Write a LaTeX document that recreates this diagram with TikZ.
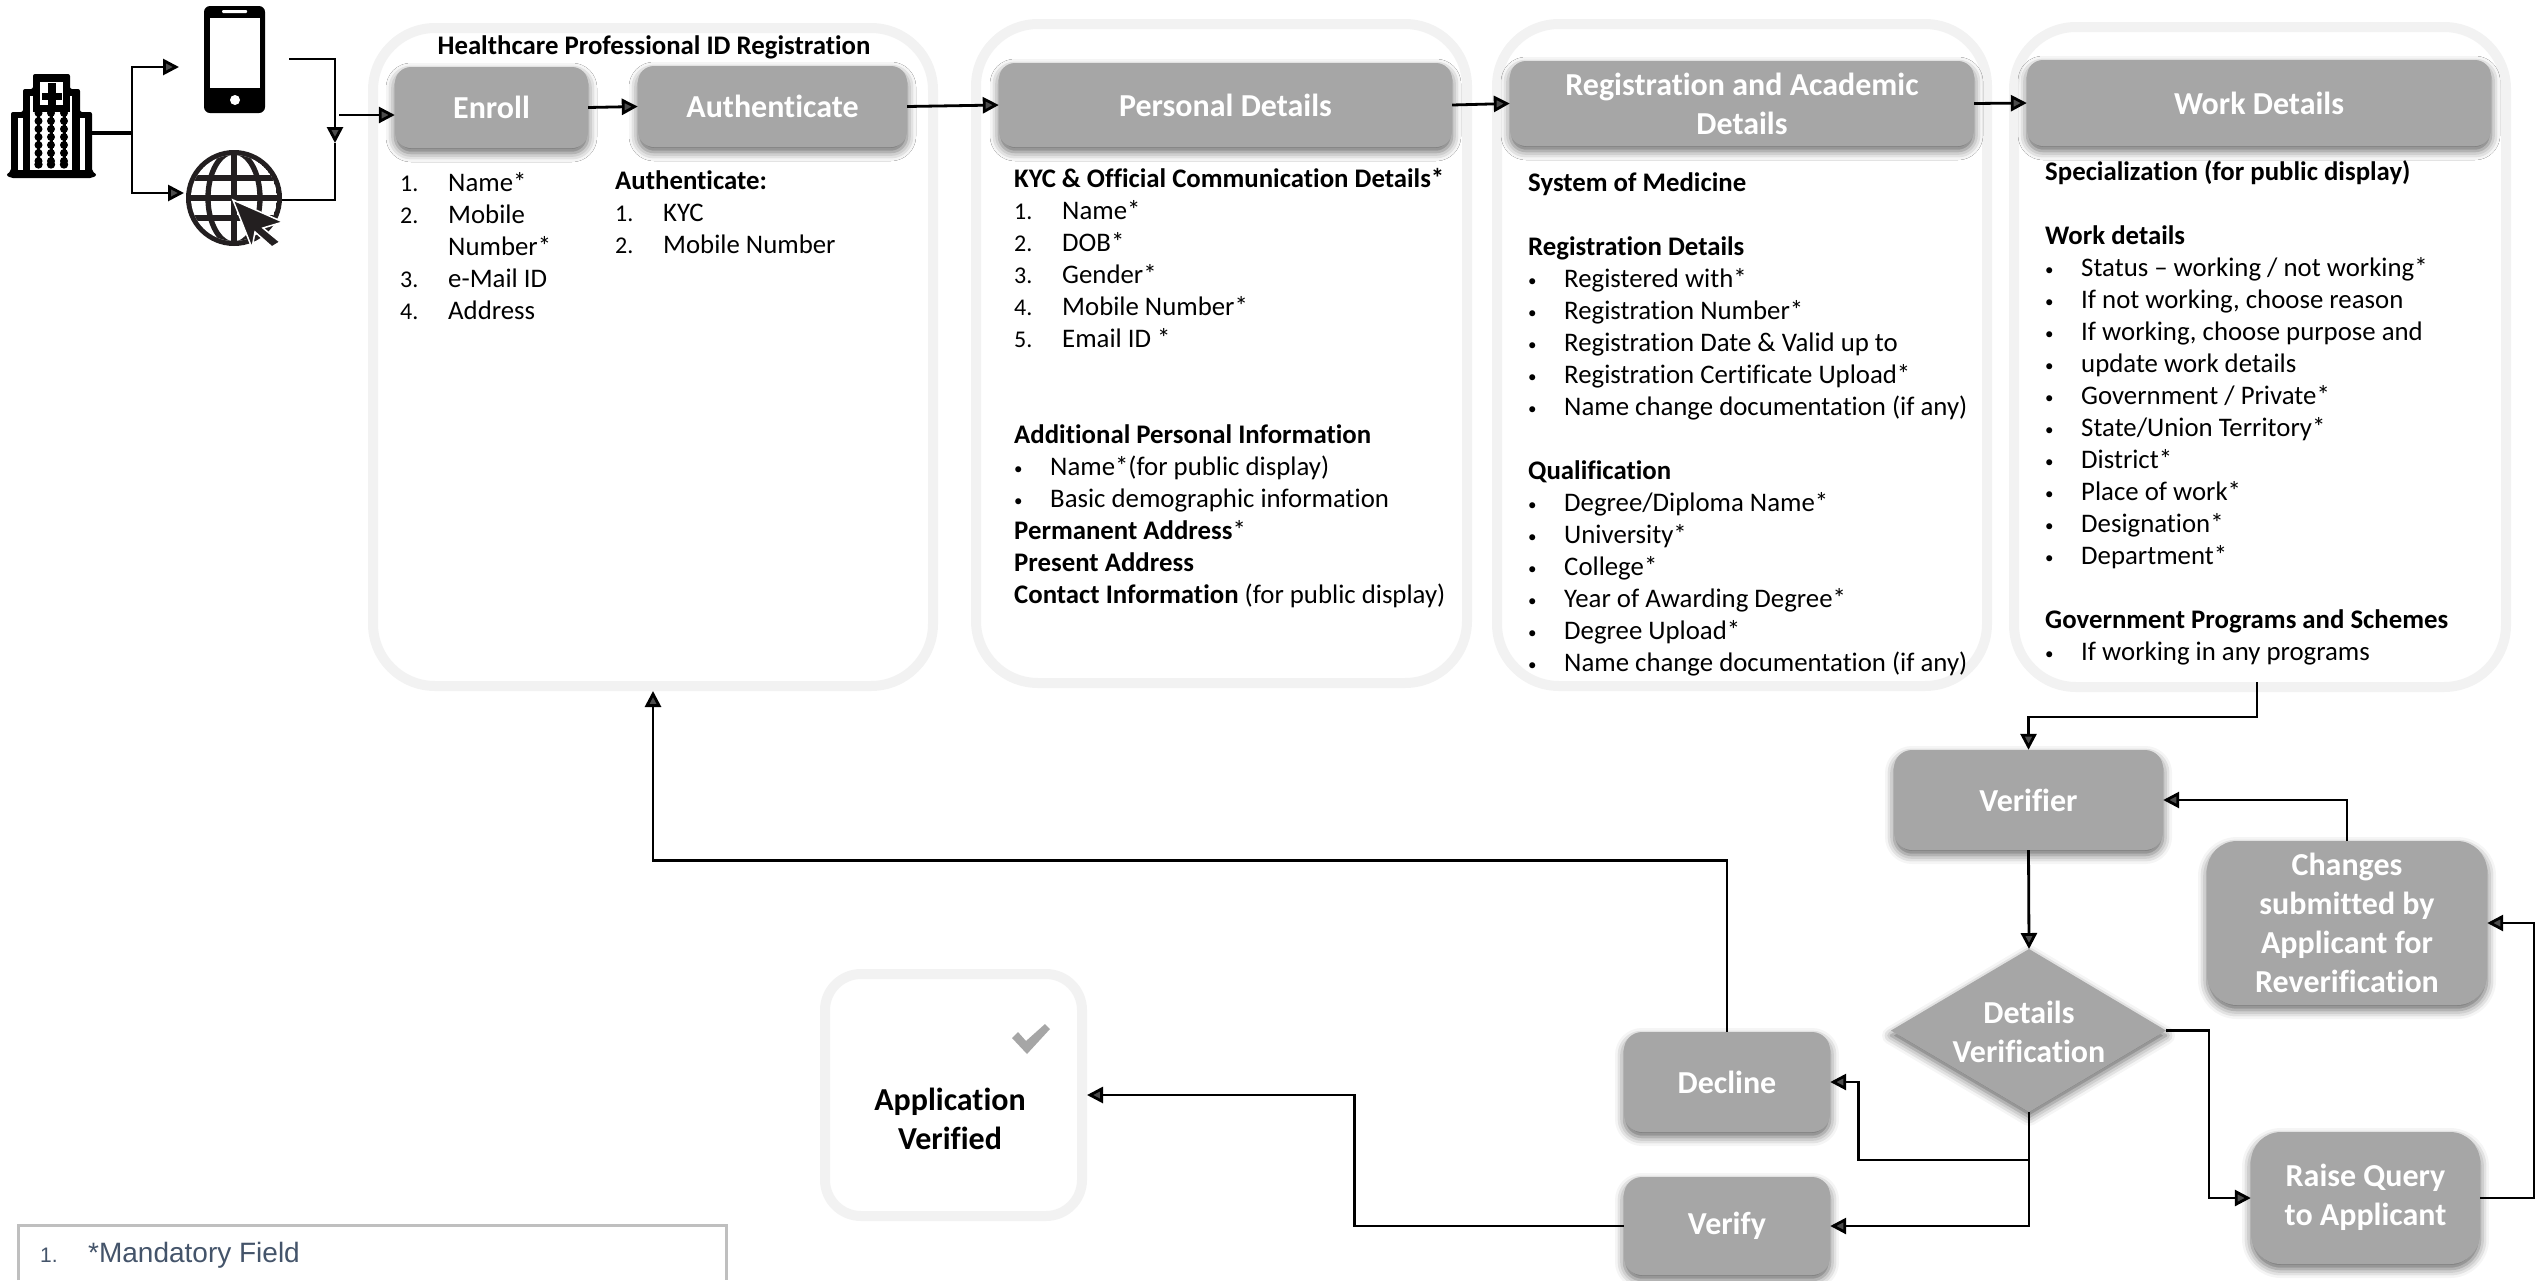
\documentclass[tikz,border=0pt]{standalone}
\usepackage{fontspec}
\setmainfont{Carlito}[Ligatures=NoCommon]
\newfontfamily\legendfont{Liberation Sans}
\usetikzlibrary{arrows.meta,shapes.geometric,shadows.blur,calc}
\definecolor{boxgray}{HTML}{A6A6A6}
\definecolor{ringgray}{HTML}{F2F2F2}
\definecolor{slate}{HTML}{44546A}
\definecolor{globeink}{HTML}{231F20}
\newcommand{\fl}{\rule{0pt}{22pt}}
\newcommand{\bl}[1]{\makebox[36pt][l]{\raisebox{1pt}{\fontsize{17}{32}\selectfont •}}#1}
\newcommand{\nm}[2]{\makebox[48pt][l]{{\fontsize{24}{32}\selectfont #1}}#2}
\tikzset{
  ring/.style={draw=ringgray,line width=10pt,rounded corners=#1,fill=white,inner sep=0pt},
  softshadow/.style={blur shadow={shadow xshift=0pt,shadow yshift=-5pt,shadow blur radius=9pt,shadow opacity=60}},
  graybox/.style={fill=boxgray,rounded corners=#1,inner sep=0pt,align=center,text=white,
     font=\fontsize{32}{38.8}\selectfont\bfseries,softshadow},
  graybox/.default=16pt,
  txt/.style={anchor=north west,inner sep=0pt,align=left,font=\fontsize{26.8}{32}\selectfont},
  flow/.style={line width=2.8pt,-{Triangle[length=16pt,width=16pt]},line join=miter},
  plain/.style={line width=2.8pt},
}
\begin{document}
\begin{tikzpicture}[x=1pt,y=-1pt]
\useasboundingbox (0,0) rectangle (2535,1280);
% container rings
\node[ring=62pt,minimum width=560pt,minimum height=658pt] (box1) at (653,357) {};
\node[ring=62pt,minimum width=491pt,minimum height=659pt] (box2) at (1221.5,353.5) {};
\node[ring=62pt,minimum width=490pt,minimum height=662pt] (box3) at (1742,355) {};
\node[ring=62pt,minimum width=492pt,minimum height=660pt] (box4) at (2260,357) {};
\node[ring=36pt,minimum width=257pt,minimum height=242pt] (appbox) at (953.5,1095) {};
% gray process boxes
\node[graybox,minimum width=193pt,minimum height=81pt] (enroll) at (491.5,107.5) {\raisebox{-1pt}{Enroll}};
\node[graybox,minimum width=269pt,minimum height=81pt] (auth) at (772.5,106.5) {\raisebox{-1pt}{Authenticate}};
\node[graybox,minimum width=453pt,minimum height=84pt] (personal) at (1225.5,105) {Personal Details};
\node[graybox,minimum width=464pt,minimum height=85pt] (reg) at (1742,103.5) {Registration and Academic\\Details};
\node[graybox,minimum width=464pt,minimum height=86pt] (work) at (2259,103) {\raisebox{-1.5pt}{Work Details}};
\node[graybox=18pt,minimum width=269pt,minimum height=100pt] (verifier) at (2028.5,800) {\raisebox{-1.5pt}{Verifier}};
\node[graybox=30pt,minimum width=280pt,minimum height=164pt] (changes) at (2347,923) {Changes\\submitted by\\Applicant for\\Reverification};
\node[graybox=18pt,minimum width=206pt,minimum height=100pt] (decline) at (1727,1082) {\raisebox{-1.5pt}{Decline}};
\node[graybox=18pt,minimum width=206pt,minimum height=98pt] (verify) at (1727,1226) {\raisebox{-1.5pt}{Verify}};
\node[graybox=30pt,minimum width=229pt,minimum height=132pt] (raise) at (2365.5,1198) {\raisebox{-1.5pt}{\begin{tabular}{@{}c@{}}Raise Query\\to Applicant\end{tabular}}};
\path[fill=boxgray,softshadow] (2029,949) coordinate (dtop) -- (2166,1030.5) coordinate (dright) -- (2029,1112) coordinate (dbottom) -- (1891,1030.5) coordinate (dleft) -- cycle;
\node[inner sep=0pt,align=center,text=white,font=\fontsize{32}{38.8}\selectfont\bfseries] (dlabel) at (2029,1032) {Details\\Verification};
% texts
\node[inner sep=0pt,anchor=base,font=\fontsize{26.8}{32}\selectfont\bfseries] (title) at (654,54) {Healthcare Professional ID Registration};
\node[txt] (list1) at (400,169) {\fl\nm{1.}{Name*}\\\nm{2.}{Mobile}\\\nm{}{Number*}\\\nm{3.}{e-Mail ID}\\\nm{4.}{Address}};
\node[txt] (list2) at (615,167) {\fl\textbf{Authenticate:}\\\nm{1.}{KYC}\\\nm{2.}{Mobile Number}};
\node[txt] (list3) at (1014,165) {\fl\textbf{KYC \& Official Communication Details*}\\\nm{1.}{Name*}\\\nm{2.}{DOB*}\\\nm{3.}{Gender*}\\\nm{4.}{Mobile Number*}\\\nm{5.}{Email ID *}\\\mbox{}\\\mbox{}\\\textbf{Additional Personal Information}\\\bl{Name*(for public display)}\\\bl{Basic demographic information}\\\textbf{Permanent Address}*\\\textbf{Present Address}\\\textbf{Contact Information} (for public display)};
\node[txt] (list4) at (1528,169) {\fl\textbf{System of Medicine}\\\mbox{}\\\textbf{Registration Details}\\\bl{Registered with*}\\\bl{Registration Number*}\\\bl{Registration Date \& Valid up to}\\\bl{Registration Certificate Upload*}\\\bl{Name change documentation (if any)}\\\mbox{}\\\textbf{Qualification}\\\bl{Degree/Diploma Name*}\\\bl{University*}\\\bl{College*}\\\bl{Year of Awarding Degree*}\\\bl{Degree Upload*}\\\bl{Name change documentation (if any)}};
\node[txt] (list5) at (2045,158) {\fl\textbf{Specialization (for public display)}\\\mbox{}\\\textbf{Work details}\\\bl{Status – working / not working*}\\\bl{If not working, choose reason}\\\bl{If working, choose purpose and}\\\bl{update work details}\\\bl{Government / Private*}\\\bl{State/Union Territory*}\\\bl{District*}\\\bl{Place of work*}\\\bl{Designation*}\\\bl{Department*}\\\mbox{}\\\textbf{Government Programs and Schemes}\\\bl{If working in any programs}};
\node[inner sep=0pt,align=center,font=\fontsize{32}{38.8}\selectfont\bfseries] (applabel) at (950,1119) {Application\\Verified};
% check mark
\path[fill=boxgray] (1012,1038) -- (1018,1032) -- (1026,1041) -- (1045,1024) -- (1050,1029) -- (1027,1054) -- cycle;
% legend
\draw[draw=black!25,line width=3pt] (18,1280) -- (18,1225) -- (726,1225) -- (726,1280);
\node[inner sep=0pt,anchor=base west,text=slate,font=\legendfont\fontsize{21}{24}\selectfont] (legn) at (40,1262) {1.};
\node[inner sep=0pt,anchor=base west,text=slate,font=\legendfont\fontsize{28}{30}\selectfont] (legt) at (88,1262) {*Mandatory Field};
% building icon
\fill[black,rounded corners=2pt] (6,175) -- (11,171) -- (11,112) -- (23,112) -- (23,89) -- (33,89) -- (33,74) -- (70,74) -- (70,89) -- (80,89) -- (80,112) -- (92,112) -- (92,171) -- (97,175) -- (92,178) -- (11,178) -- cycle;
\fill[white] (18,118) rectangle (23,170);
\fill[white] (80,118) rectangle (85,170);
\fill[white] (30,96) rectangle (72,170);
\fill[white] (40,82) rectangle (63,105);
\fill[black] (33,105) rectangle (70,112);
\fill[black] (33,96) rectangle (40,105);
\fill[black] (63,96) rectangle (70,105);
\fill[black] (48,83) rectangle (56,105);
\fill[black] (42,93) rectangle (62,100);
\foreach \cx in {38.5,51,64}{
  \foreach \cy in {113,121,...,161}{ \fill[black] (\cx,\cy) circle[radius=4pt]; }
  \fill[black] (\cx,164.5) circle[radius=4.2pt];
  \fill[black] (\cx-1.5,108) rectangle (\cx+1.5,166);
}
% phone icon
\fill[black,rounded corners=6pt] (204,6) rectangle (265,113);
\fill[white] (210,18) rectangle (260,88);
\fill[white,rounded corners=1pt] (222,10) rectangle (247,13);
\fill[white] (235,100) circle[radius=5pt];
% globe icon
\begin{scope}
\fill[globeink] (234,198) circle[radius=48pt];
\clip (234,198) circle[radius=43pt];
\fill[white] (234,198) circle[radius=43pt];
\draw[globeink,line width=5.3pt] (234,150) -- (234,247);
\draw[globeink,line width=5.3pt] (234,198) ellipse[x radius=26pt,y radius=46pt];
\draw[globeink,line width=5.3pt] (185,198) -- (283,198);
\draw[globeink,line width=5.3pt] (185,178) -- (283,178);
\draw[globeink,line width=5.3pt] (185,218) -- (283,218);
\end{scope}
\path[fill=globeink,draw=white,line width=1.5pt] (233,200) -- (283,222) -- (263,228) -- (280,242) -- (272,247) -- (255,232) -- (252,248) -- cycle;
% named free ends
\coordinate (bldg) at (91,133);
\coordinate (fork) at (132,133);
\coordinate (phoneIn) at (179,67);
\coordinate (globeIn) at (184,193);
\coordinate (phoneOut) at (289,59);
\coordinate (globeOut) at (282,200);
\coordinate (joinpt) at (335,143);
\coordinate (mergeOut) at (339,115);
\coordinate (box4out) at (2257,682);
% connectors
\draw[plain,line width=3.6pt] (bldg) -- (fork);
\draw[flow] (fork) |- (phoneIn);
\draw[flow] (fork) |- (globeIn);
\draw[flow] (phoneOut) -| (joinpt);
\draw[plain] (globeOut) -| (joinpt);
\draw[flow] (mergeOut) -- (mergeOut -| enroll.west);
\draw[flow] (enroll.east) -- (auth.west);
\draw[flow] (auth.east) -- (personal.west);
\draw[flow] (personal.east) -- (reg.west);
\draw[flow] (reg.east) -- (work.west);
\draw[flow] (box4out) -- ++(0,35) -| (verifier.north);
\draw[flow] (verifier.south) -- (dtop);
\draw[flow] (changes.north) |- (verifier.east);
\draw[flow] (raise.east) -- ++(54,0) |- (changes.east);
\draw[flow] (dright) -- ++(43,0) |- (raise.west);
\draw[flow] (dbottom) |- (verify.east);
\draw[flow] (dbottom) -- ++(0,48) -| ($(decline.east)+(28,0)$) -- (decline.east);
\draw[flow] (decline.north) -- ++(0,-171) -| (box1.south);
\draw[flow] (verify.west) -- ++(-269,0) |- (appbox.east |- 0,1095);
\end{tikzpicture}
\end{document}
